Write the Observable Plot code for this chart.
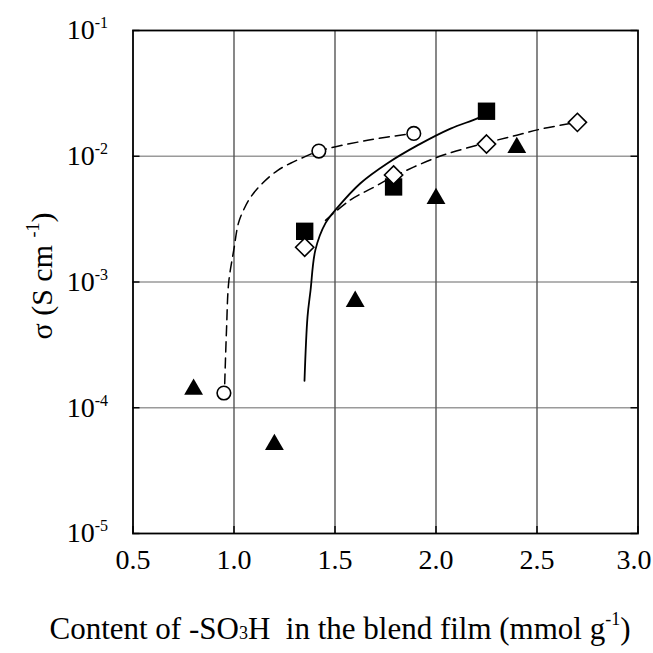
<!DOCTYPE html>
<html>
<head>
<meta charset="utf-8">
<script src="https://cdn.jsdelivr.net/npm/d3@7"></script>
<script src="https://cdn.jsdelivr.net/npm/@observablehq/plot@0.6"></script>
<style>
  html, body { margin: 0; padding: 0; background: #fff; }
  svg text { font-family: "Liberation Serif", "Times New Roman", serif; }
</style>
</head>
<body>
<div id="chart"></div>
<script>
// ---- data ----
const xTicks = [0.5, 1.0, 1.5, 2.0, 2.5, 3.0];
const yTicks = [1e-5, 1e-4, 1e-3, 1e-2, 1e-1];
const yTickLabels = ["10^-5", "10^-4", "10^-3", "10^-2", "10^-1"];
const xGrid = [1.0, 1.5, 2.0, 2.5];
const yGrid = [1e-4, 1e-3, 1e-2];

// open circles
const circleX = [0.95, 1.42, 1.89];
const circleY = [1.31e-4, 1.10e-2, 1.52e-2];
// filled squares
const squareX = [1.35, 1.79, 2.25];
const squareY = [2.53e-3, 5.7e-3, 2.28e-2];
// open diamonds
const diamondX = [1.35, 1.79, 2.25, 2.70];
const diamondY = [1.89e-3, 7.1e-3, 1.25e-2, 1.86e-2];
// filled triangles
const triangleX = [0.80, 1.20, 1.60, 2.00, 2.40];
const triangleY = [1.40e-4, 5.1e-5, 7.0e-4, 4.6e-3, 1.17e-2];

// fitted curves
const circleFitX = [0.954, 0.963, 0.974, 0.999, 1.022, 1.047, 1.082, 1.141, 1.215, 1.280, 1.344, 1.42, 1.661, 1.89];
const circleFitY = [1.55e-4, 4.2e-4, 1.0e-3, 1.80e-3, 2.94e-3, 3.73e-3, 4.72e-3, 6.1e-3, 7.7e-3, 8.8e-3, 9.8e-3, 1.1e-2, 1.34e-2, 1.52e-2];
const squareFitX = [1.349, 1.364, 1.379, 1.403, 1.453, 1.512, 1.626, 1.760, 1.908, 2.072, 2.205, 2.24];
const squareFitY = [1.64e-4, 5.3e-4, 8.6e-4, 1.8e-3, 2.94e-3, 3.9e-3, 6.1e-3, 8.8e-3, 1.22e-2, 1.66e-2, 2.0e-2, 2.15e-2];
const diamondFitX = [1.453, 1.577, 1.686, 1.79, 1.99, 2.10, 2.25, 2.40, 2.53, 2.70];
const diamondFitY = [3.1e-3, 4.5e-3, 5.6e-3, 6.9e-3, 9.6e-3, 1.1e-2, 1.28e-2, 1.47e-2, 1.66e-2, 1.86e-2];

const zip = (xs, ys) => xs.map((x, i) => ({x, y: ys[i]}));

const W = 653, H = 653;
const mL = 132.5, mR = 15.5, mT = 30, mB = 120;
const fw = W - mL - mR, fh = H - mT - mB;
const tick = 7;

const svg = Plot.plot({
  width: W, height: H,
  marginLeft: mL, marginRight: mR, marginTop: mT, marginBottom: mB,
  style: {fontFamily: "Liberation Serif", background: "white", overflow: "visible"},
  x: {domain: [0.5, 3.0]},
  y: {type: "log", domain: [1e-5, 1e-1]},
  marks: [
    Plot.ruleY(yGrid, {stroke: "#9a9a9a", strokeWidth: 1.6}),
    Plot.ruleX(xGrid, {stroke: "#555", strokeWidth: 1.4}),
    // inward ticks
    Plot.ruleY(yTicks, {insetRight: fw - tick, stroke: "#000", strokeWidth: 1.4}),
    Plot.ruleY(yTicks, {insetLeft: fw - tick, stroke: "#000", strokeWidth: 1.4}),
    Plot.ruleX(xTicks, {insetTop: fh - tick, stroke: "#000", strokeWidth: 1.4}),
    // curves
    Plot.line(zip(circleFitX, circleFitY), {x: "x", y: "y", curve: "catmull-rom", stroke: "#000", strokeWidth: 1.5, strokeDasharray: "10,6"}),
    Plot.line(zip(diamondFitX, diamondFitY), {x: "x", y: "y", curve: "catmull-rom", stroke: "#000", strokeWidth: 1.5, strokeDasharray: "10,6"}),
    Plot.line(zip(squareFitX, squareFitY), {x: "x", y: "y", curve: "catmull-rom", stroke: "#000", strokeWidth: 1.8}),
    // markers
    Plot.dot(zip(triangleX, triangleY), {x: "x", y: "y", symbol: "triangle", r: 7, fill: "#000", stroke: "none"}),
    Plot.dot(zip(squareX, squareY), {x: "x", y: "y", symbol: "square", r: 9.8, fill: "#000", stroke: "none"}),
    Plot.dot(zip(diamondX, diamondY), {x: "x", y: "y", symbol: "diamond2", r: 8.2, fill: "#fff", stroke: "#000", strokeWidth: 1.6}),
    Plot.dot(zip(circleX, circleY), {x: "x", y: "y", symbol: "circle", r: 6.8, fill: "#fff", stroke: "#000", strokeWidth: 1.6}),
    // axes
    Plot.axisX(xTicks, {tickSize: 0, tickPadding: 16, fontSize: 28, tickFormat: d => d.toFixed(1), label: null}),
    Plot.axisY(yTicks, {tickSize: 0, tickPadding: 25, fontSize: 28, tickFormat: d => yTickLabels[yTicks.indexOf(d)], label: null}),
    Plot.frame({stroke: "#000", strokeWidth: 1.8})
  ]
});

const s = d3.select(svg);
// superscript y tick labels
s.selectAll('g[aria-label="y-axis tick label"] text').each(function() {
  const parts = this.textContent.split("^");
  if (parts.length < 2) return;
  const t = d3.select(this);
  t.text(null);
  t.append("tspan").text(parts[0]);
  t.append("tspan").attr("font-size", 16).attr("dy", -11).text(parts[1]);
});
// keep the last x tick label inside the page
s.selectAll('g[aria-label="x-axis tick label"] text').each(function() {
  if (this.textContent === "3.0") d3.select(this).attr("dx", -4);
});

// x axis title
const xl = s.append("text")
  .attr("x", 340).attr("y", 639)
  .attr("text-anchor", "middle")
  .attr("font-size", 31)
  .attr("fill", "#000")
  .style("white-space", "pre");
xl.append("tspan").text("Content of -SO");
xl.append("tspan").attr("font-size", 18).text("3");
xl.append("tspan").text("H  in the blend film (mmol g");
xl.append("tspan").attr("font-size", 18).attr("dy", -14).text("-1");
xl.append("tspan").attr("dy", 14).text(")");

// y axis title
const yl = s.append("text")
  .attr("transform", "translate(52,276) rotate(-90)")
  .attr("text-anchor", "middle")
  .attr("font-size", 30)
  .attr("fill", "#000")
  .style("white-space", "pre");
yl.append("tspan").text("\u03c3 (S cm ");
yl.append("tspan").attr("font-size", 18).attr("dy", -13).text("-1");
yl.append("tspan").attr("dy", 13).text(")");

document.getElementById("chart").appendChild(svg);
</script>
</body>
</html>
